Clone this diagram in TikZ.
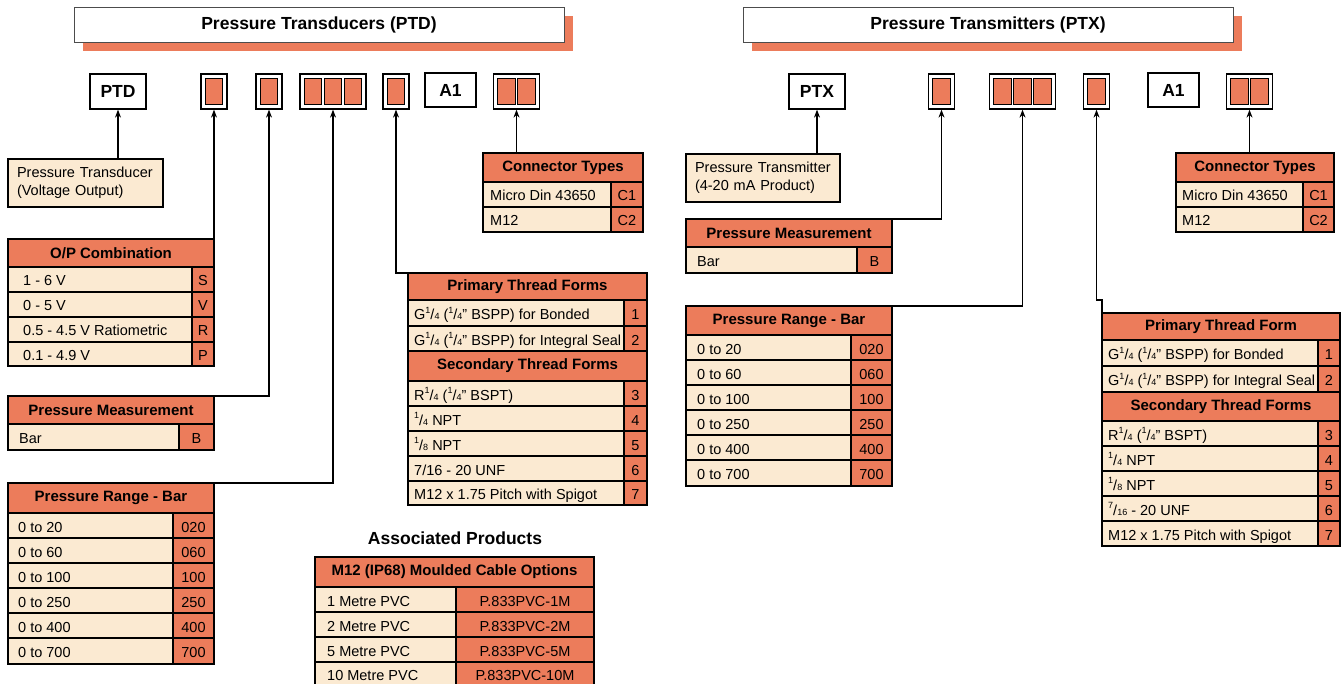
\documentclass[tikz,border=0pt]{standalone}
\usepackage{fontspec}
\setmainfont{Liberation Sans}
\usetikzlibrary{arrows.meta,shadows}

\definecolor{salmon}{HTML}{EC7C5B}
\definecolor{cream}{HTML}{FBEAD2}

\tikzset{
  titlebox/.style={draw=black!70, line width=0.9pt, fill=white, minimum width=490pt, minimum height=35pt,
    font=\fontsize{17.5}{20}\selectfont\bfseries, general shadow={fill=salmon, shadow xshift=9pt, shadow yshift=-9pt}},
  codebox/.style={draw, line width=1.3pt, fill=white, minimum height=35pt, inner sep=0pt,
    font=\fontsize{17.5}{20}\selectfont\bfseries},
  codecell/.style={draw, line width=1.1pt, fill=salmon, minimum width=17.5pt, minimum height=26pt, inner sep=0pt},
  descbox/.style={draw, line width=1.6pt, fill=cream, anchor=north west, outer sep=0pt, align=left,
    inner xsep=9pt, font=\fontsize{14.5}{18}\selectfont},
  hdr/.style={draw, line width=1.6pt, fill=salmon, anchor=north west, outer sep=0pt, inner sep=0pt,
    font=\fontsize{15}{17}\selectfont\bfseries},
  cellbox/.style={draw, line width=1.6pt, fill=cream},
  codefill/.style={draw, line width=1.6pt, fill=salmon},
  celltext/.style={inner sep=0pt, text height=13pt, text depth=0pt, font=\fontsize{14.5}{17}\selectfont},
  conn/.style={line width=1.1pt, -{Stealth[length=8pt,width=6pt]}}
}

% small fraction as printed in the thread names
\newcommand{\nfrac}[2]{\raisebox{0.42em}{\fontsize{9}{9}\selectfont#1}/{\fontsize{9}{9}\selectfont#2}}
% one table row: x left, x code, x right, y top, y bottom, inset, text, code
\newcommand{\trow}[8]{%
  \draw[cellbox] (#1,#4) rectangle (#2,#5);
  \draw[codefill] (#2,#4) rectangle (#3,#5);
  \path (#1,#4) -- (#1,#5) node[celltext, midway, anchor=west, xshift=#6pt] {#7};
  \path (#2,#4) -- (#3,#5) node[celltext, midway] {#8};}

\begin{document}
\begin{tikzpicture}[x=1pt,y=-1pt]
	\useasboundingbox (0,0) rectangle (1343,684);
	
	% ---------------- transducers ----------------
	\node[titlebox] (ptdt) at (319,24.5) {Pressure Transducers (PTD)};
	
	\node[codebox, minimum width=56pt] (ptd) at (118,91.5) {PTD};
	\node[codebox, minimum width=26pt] (b1) at (214,91.5) {};
	\node[codecell] at (b1) {};
	\node[codebox, minimum width=26pt] (b2) at (269,91.5) {};
	\node[codecell] at (b2) {};
	\node[codebox, minimum width=66pt] (b3) at (333,91.5) {};
	\node[codecell] at ([xshift=-20pt]b3.center) {};
	\node[codecell] at (b3) {};
	\node[codecell] at ([xshift=20pt]b3.center) {};
	\node[codebox, minimum width=26pt] (b4) at (396,91.5) {};
	\node[codecell] at (b4) {};
	\node[codebox, minimum width=51pt, minimum height=34pt] (a1) at (450.5,90) {A1};
	\node[codebox, minimum width=46pt] (b5) at (516.5,91.5) {};
	\node[codecell] at ([xshift=-10pt]b5.center) {};
	\node[codecell] at ([xshift=10pt]b5.center) {};
	
	\node[descbox, minimum width=155pt, minimum height=48pt, text width=137pt] (pd) at (8,159)
		{Pressure Transducer\\(Voltage Output)};
	
	\node[hdr, minimum width=206pt, minimum height=28pt] (opc) at (8,239) {O/P Combination};
	\trow{8}{192}{214}{267}{292}{15}{1 - 6 V}{S}
	\trow{8}{192}{214}{292}{317}{15}{0 - 5 V}{V}
	\trow{8}{192}{214}{317}{342}{15}{0.5 - 4.5 V Ratiometric}{R}
	\trow{8}{192}{214}{342}{366}{15}{0.1 - 4.9 V}{P}
	
	\node[hdr, minimum width=206pt, minimum height=28pt] (pm) at (8,396) {Pressure Measurement};
	\trow{8}{179}{214}{424}{450}{11}{Bar}{B}
	
	\node[hdr, minimum width=206pt, minimum height=30pt] (pr) at (8,483) {Pressure Range - Bar};
	\trow{8}{173}{214}{513}{538}{10}{0 to 20}{020}
	\trow{8}{173}{214}{538}{563}{10}{0 to 60}{060}
	\trow{8}{173}{214}{563}{588}{10}{0 to 100}{100}
	\trow{8}{173}{214}{588}{613}{10}{0 to 250}{250}
	\trow{8}{173}{214}{613}{638}{10}{0 to 400}{400}
	\trow{8}{173}{214}{638}{664}{10}{0 to 700}{700}
	
	\node[hdr, minimum width=239pt, minimum height=27pt] (th) at (408,273) {Primary Thread Forms};
	\trow{408}{624}{647}{300}{326}{6}{G\nfrac14 (\nfrac14'' BSPP) for Bonded}{1}
	\trow{408}{624}{647}{326}{351}{6}{G\nfrac14 (\nfrac14'' BSPP) for Integral Seal}{2}
	\node[hdr, minimum width=239pt, minimum height=30pt] (sth) at (408,351) {Secondary Thread Forms};
	\trow{408}{624}{647}{381}{406}{6}{R\nfrac14 (\nfrac14'' BSPT)}{3}
	\trow{408}{624}{647}{406}{431}{6}{\nfrac14 NPT}{4}
	\trow{408}{624}{647}{431}{456}{6}{\nfrac18 NPT}{5}
	\trow{408}{624}{647}{456}{481}{6}{7/16 - 20 UNF}{6}
	\trow{408}{624}{647}{481}{505}{6}{M12 x 1.75 Pitch with Spigot}{7}
	
	\node[hdr, minimum width=160pt, minimum height=29pt] (ct) at (483,153) {Connector Types};
	\trow{483}{611}{643}{182}{207}{7}{Micro Din 43650}{C1}
	\trow{483}{611}{643}{207}{232}{7}{M12}{C2}
	
	\node[font=\fontsize{17.5}{20}\selectfont\bfseries] (ap) at (455,538) {Associated Products};
	\node[hdr, minimum width=279pt, minimum height=30pt] (cab) at (315,557) {M12 (IP68) Moulded Cable Options};
	\trow{315}{456}{594}{587}{612}{12}{1 Metre PVC}{P.833PVC-1M}
	\trow{315}{456}{594}{612}{637}{12}{2 Metre PVC}{P.833PVC-2M}
	\trow{315}{456}{594}{637}{662}{12}{5 Metre PVC}{P.833PVC-5M}
	\trow{315}{456}{594}{662}{686}{12}{10 Metre PVC}{P.833PVC-10M}
	
	\draw[conn] (ptd.south |- pd.north) -- (ptd.south);
	\draw[conn] (opc.north east) -- (opc.north east |- b1.south);
	\draw[conn] (pm.north east) -| (b2.south);
	\draw[conn] (pr.north east) -| (b3.south);
	\draw[conn] (th.north west) -| (b4.south);
	\draw[conn] (b5.south |- ct.north) -- (b5.south);
	
	% ---------------- transmitters ----------------
	\node[titlebox] (ptxt) at (988,24.5) {Pressure Transmitters (PTX)};
	
	\node[codebox, minimum width=56pt] (ptx) at (817,91.5) {PTX};
	\node[codebox, minimum width=26pt] (c1) at (941.5,91.5) {};
	\node[codecell] at (c1) {};
	\node[codebox, minimum width=66pt] (c2) at (1022.5,91.5) {};
	\node[codecell] at ([xshift=-20pt]c2.center) {};
	\node[codecell] at (c2) {};
	\node[codecell] at ([xshift=20pt]c2.center) {};
	\node[codebox, minimum width=26pt] (c3) at (1096.5,91.5) {};
	\node[codecell] at (c3) {};
	\node[codebox, minimum width=51pt, minimum height=34pt] (a1x) at (1173.5,90) {A1};
	\node[codebox, minimum width=46pt] (c4) at (1249.5,91.5) {};
	\node[codecell] at ([xshift=-10pt]c4.center) {};
	\node[codecell] at ([xshift=10pt]c4.center) {};
	
	\node[descbox, minimum width=154pt, minimum height=48pt, text width=136pt] (tx) at (686,154)
		{Pressure Transmitter\\(4-20 mA Product)};
	
	\node[hdr, minimum width=206pt, minimum height=28pt] (pm2) at (686,219) {Pressure Measurement};
	\trow{686}{857}{892}{247}{273}{11}{Bar}{B}
	
	\node[hdr, minimum width=206pt, minimum height=29pt] (pr2) at (686,306) {Pressure Range - Bar};
	\trow{686}{851}{892}{335}{360}{11}{0 to 20}{020}
	\trow{686}{851}{892}{360}{385}{11}{0 to 60}{060}
	\trow{686}{851}{892}{385}{410}{11}{0 to 100}{100}
	\trow{686}{851}{892}{410}{435}{11}{0 to 250}{250}
	\trow{686}{851}{892}{435}{460}{11}{0 to 400}{400}
	\trow{686}{851}{892}{460}{486}{11}{0 to 700}{700}
	
	\node[hdr, minimum width=238pt, minimum height=27pt] (th2) at (1102,313) {Primary Thread Form};
	\trow{1102}{1318}{1340}{340}{366}{6}{G\nfrac14 (\nfrac14'' BSPP) for Bonded}{1}
	\trow{1102}{1318}{1340}{366}{392}{6}{G\nfrac14 (\nfrac14'' BSPP) for Integral Seal}{2}
	\node[hdr, minimum width=238pt, minimum height=29pt] (sth2) at (1102,392) {Secondary Thread Forms};
	\trow{1102}{1318}{1340}{421}{446}{6}{R\nfrac14 (\nfrac14'' BSPT)}{3}
	\trow{1102}{1318}{1340}{446}{471}{6}{\nfrac14 NPT}{4}
	\trow{1102}{1318}{1340}{471}{496}{6}{\nfrac18 NPT}{5}
	\trow{1102}{1318}{1340}{496}{521}{6}{\nfrac7{16} - 20 UNF}{6}
	\trow{1102}{1318}{1340}{521}{546}{6}{M12 x 1.75 Pitch with Spigot}{7}
	
	\node[hdr, minimum width=158pt, minimum height=29pt] (ct2) at (1176,153) {Connector Types};
	\trow{1176}{1303}{1334}{182}{207}{6}{Micro Din 43650}{C1}
	\trow{1176}{1303}{1334}{207}{232}{6}{M12}{C2}
	
	\coordinate (jog) at (1096.5,300);
	\draw[conn] (ptx.south |- tx.north) -- (ptx.south);
	\draw[conn] (pm2.north east) -| (c1.south);
	\draw[conn] (pr2.north east) -| (c2.south);
	\draw[conn] (th2.north west) |- (jog) -- (c3.south);
	\draw[conn] (c4.south |- ct2.north) -- (c4.south);
	
\end{tikzpicture}
\end{document}
